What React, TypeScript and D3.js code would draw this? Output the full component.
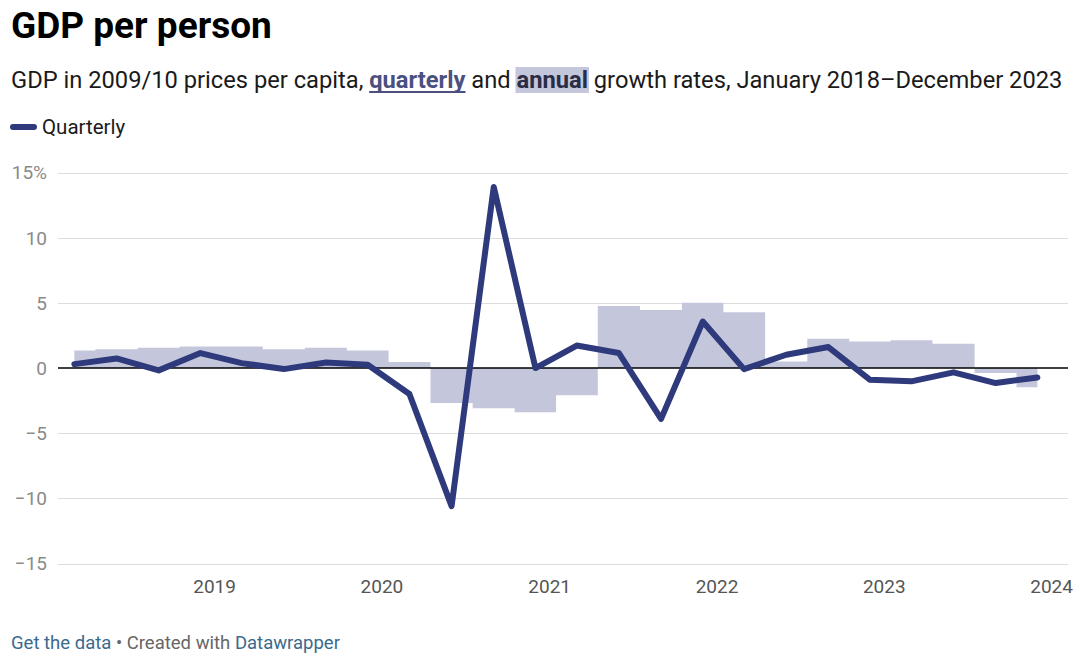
import React, { useEffect, useRef } from "react";
import * as d3 from "d3";

const quarterDates = [
  "2018-03-01", "2018-06-01", "2018-09-01", "2018-12-01",
  "2019-03-01", "2019-06-01", "2019-09-01", "2019-12-01",
  "2020-03-01", "2020-06-01", "2020-09-01", "2020-12-01",
  "2021-03-01", "2021-06-01", "2021-09-01", "2021-12-01",
  "2022-03-01", "2022-06-01", "2022-09-01", "2022-12-01",
  "2023-03-01", "2023-06-01", "2023-09-01", "2023-12-01",
];
const quarterlyGrowth = [
  0.3, 0.74, -0.18, 1.15,
  0.38, -0.08, 0.43, 0.25,
  -1.99, -10.6, 13.9, 0.0,
  1.73, 1.15, -3.9, 3.57,
  -0.08, 1.02, 1.61, -0.9,
  -1.02, -0.33, -1.15, -0.72,
];
const annualGrowth = [
  1.35, 1.45, 1.55, 1.65,
  1.65, 1.45, 1.55, 1.35,
  0.46, -2.68, -3.09, -3.4,
  -2.09, 4.77, 4.46, 5.02,
  4.28, 0.51, 2.24, 2.04,
  2.14, 1.86, -0.38, -1.48,
];
const yTicks = [-15, -10, -5, 0, 5, 10, 15];
const xTickYears = [2019, 2020, 2021, 2022, 2023, 2024];

const LINE_COLOR = "#2e3a7c";
const AREA_COLOR = "#c4c7dc";
const FONT = "Roboto, 'Noto Sans', sans-serif";

export default function App() {
  const ref = useRef<SVGSVGElement>(null);

  useEffect(() => {
    const svg = d3.select(ref.current);
    svg.selectAll("*").remove();
    const parse = d3.utcParse("%Y-%m-%d");
    const data = quarterDates.map((d, i) => ({
      date: parse(d) as Date,
      q: quarterlyGrowth[i],
      a: annualGrowth[i],
    }));

    const gridLeft = 58;
    const gridRight = 1068;

    const x = d3
      .scaleUtc()
      .domain([new Date(Date.UTC(2018, 0, 1)), new Date(Date.UTC(2024, 0, 1))])
      .range([47.3, 1051.6]);
    const y = d3.scaleLinear().domain([-15, 15]).range([563.5, 172.6]);

    // Title
    svg
      .append("text")
      .attr("x", 11)
      .attr("y", 38)
      .attr("font-family", FONT)
      .attr("font-weight", 700)
      .attr("font-size", 37)
      .attr("fill", "#000")
      .text("GDP per person");

    const hl = svg.append("g");

    // Subtitle
    const sub = svg
      .append("text")
      .attr("x", 11)
      .attr("y", 88)
      .attr("font-family", FONT)
      .attr("font-size", 23.7)
      .attr("fill", "#1a1a1a");
    sub.append("tspan").text("GDP in 2009/10 prices per capita, ");
    const tq = sub
      .append("tspan")
      .attr("font-weight", 700)
      .attr("fill", "#4b5080")
      .text("quarterly");
    sub.append("tspan").text(" and ");
    const ta = sub
      .append("tspan")
      .attr("font-weight", 700)
      .attr("fill", "#2a2d45")
      .text("annual");
    sub.append("tspan").text(" growth rates, January 2018\u2013December 2023");

    const bq = (tq.node() as SVGGraphicsElement).getBBox();
    svg
      .append("line")
      .attr("x1", bq.x)
      .attr("x2", bq.x + bq.width)
      .attr("y1", 92)
      .attr("y2", 92)
      .attr("stroke", "#4b5080")
      .attr("stroke-width", 1.8);
    const ba = (ta.node() as SVGGraphicsElement).getBBox();
    hl.append("rect")
      .attr("x", ba.x - 1)
      .attr("y", 67)
      .attr("width", ba.width + 2)
      .attr("height", 26)
      .attr("fill", AREA_COLOR);

    // Legend
    svg
      .append("line")
      .attr("x1", 13)
      .attr("x2", 34)
      .attr("y1", 127)
      .attr("y2", 127)
      .attr("stroke", LINE_COLOR)
      .attr("stroke-width", 6)
      .attr("stroke-linecap", "round");
    svg
      .append("text")
      .attr("x", 42)
      .attr("y", 134)
      .attr("font-family", FONT)
      .attr("font-size", 20.5)
      .attr("fill", "#1a1a1a")
      .text("Quarterly");

    // Grid
    svg
      .append("g")
      .selectAll("line")
      .data(yTicks.filter((t) => t !== 0))
      .join("line")
      .attr("x1", gridLeft)
      .attr("x2", gridRight)
      .attr("y1", (d) => Math.round(y(d)) + 0.5)
      .attr("y2", (d) => Math.round(y(d)) + 0.5)
      .attr("stroke", "#dcdcdc")
      .attr("stroke-width", 1);

    const fmt = (v: number) =>
      (v < 0 ? "\u2212" + Math.abs(v) : String(v)) + (v === 15 ? "%" : "");
    svg
      .append("g")
      .selectAll("text")
      .data(yTicks)
      .join("text")
      .attr("x", 47)
      .attr("y", (d) => y(d) + 6.8)
      .attr("text-anchor", "end")
      .attr("font-family", FONT)
      .attr("font-size", 19)
      .attr("fill", "#8a8a8a")
      .text(fmt);

    // Area (annual) as step
    const area = d3
      .area<any>()
      .x((d) => x(d.date))
      .y0(y(0))
      .y1((d) => y(d.a))
      .curve(d3.curveStep);
    svg.append("path").datum(data).attr("d", area).attr("fill", AREA_COLOR);

    // Zero line
    svg
      .append("line")
      .attr("x1", gridLeft)
      .attr("x2", gridRight)
      .attr("y1", y(0))
      .attr("y2", y(0))
      .attr("stroke", "#000")
      .attr("stroke-width", 1.5);

    // Quarterly line
    const line = d3
      .line<any>()
      .x((d) => x(d.date))
      .y((d) => y(d.q));
    svg
      .append("path")
      .datum(data)
      .attr("d", line)
      .attr("fill", "none")
      .attr("stroke", LINE_COLOR)
      .attr("stroke-width", 6)
      .attr("stroke-linejoin", "round")
      .attr("stroke-linecap", "round");

    // X axis labels
    svg
      .append("g")
      .selectAll("text")
      .data(xTickYears)
      .join("text")
      .attr("x", (d) => x(new Date(Date.UTC(d, 0, 1))))
      .attr("y", 593)
      .attr("text-anchor", "middle")
      .attr("font-family", FONT)
      .attr("font-size", 19)
      .attr("fill", "#555")
      .text((d) => String(d));

    // Footer
    const foot = svg
      .append("text")
      .attr("x", 11)
      .attr("y", 649)
      .attr("font-family", FONT)
      .attr("font-size", 18.5)
      .attr("fill", "#666");
    foot.append("tspan").attr("fill", "#3a6a8e").text("Get the data");
    foot.append("tspan").text(" \u2022 Created with ");
    foot.append("tspan").attr("fill", "#3a6a8e").text("Datawrapper");
  }, []);

  return (
    <div style={{ position: "absolute", left: 0, top: 0 }}>
      <svg
        ref={ref}
        width={1080}
        height={663}
        style={{ display: "block", background: "#fff" }}
      />
    </div>
  );
}
